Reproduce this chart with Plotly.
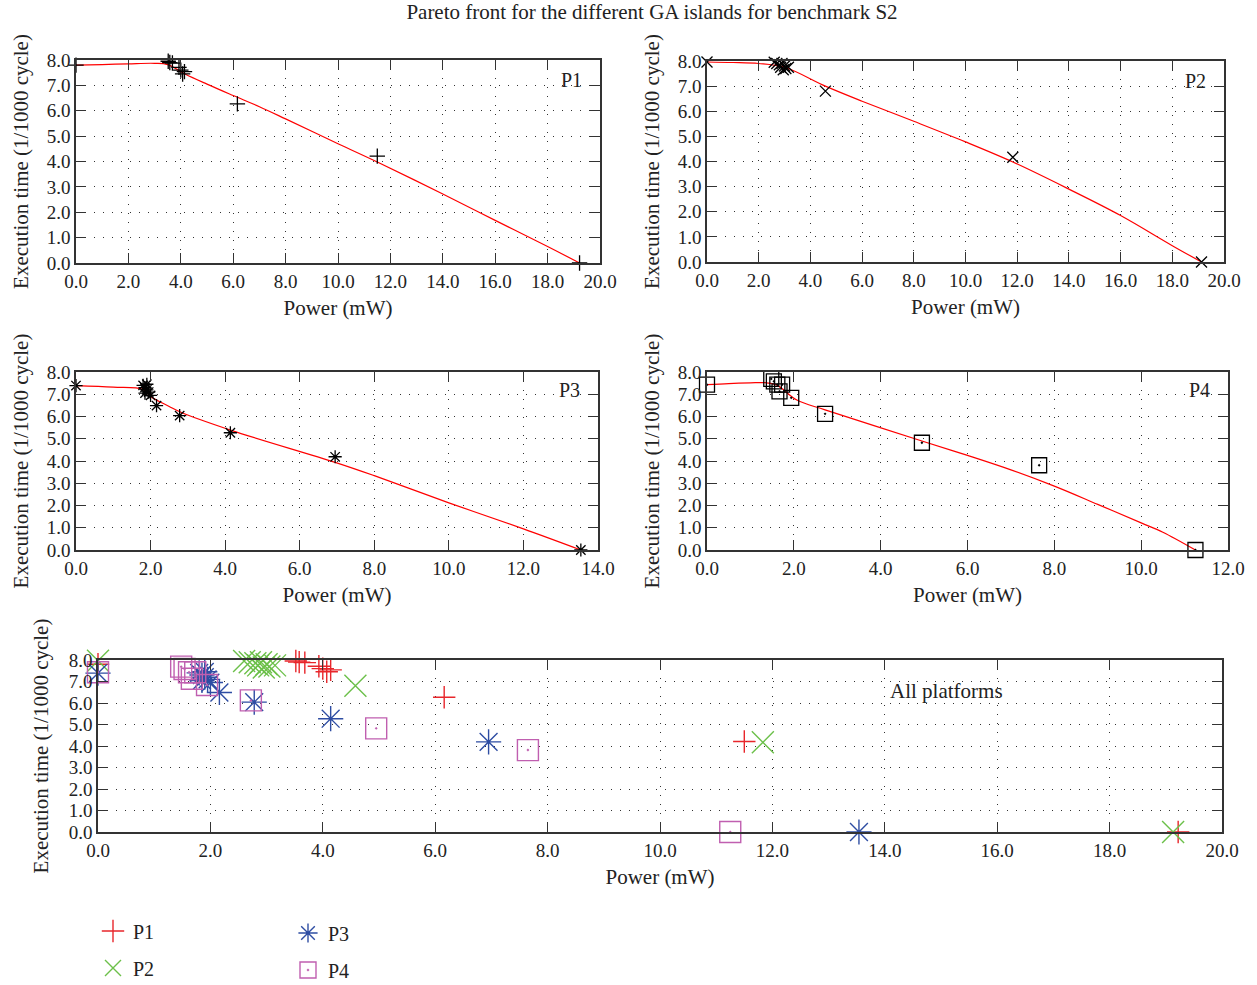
import plotly.graph_objects as go

W, H = 1257, 985

# ---------------- data ----------------
p1_x = [0.0, 3.52, 3.58, 3.68, 3.93, 4.0, 4.07, 4.14, 6.16, 11.5, 19.22]
p1_y = [7.8, 7.95, 7.9, 7.88, 7.71, 7.6, 7.45, 7.54, 6.27, 4.21, 0.0]
p1_fit_x = [0.0, 1.0, 2.0, 3.0, 3.5, 4.16, 5.0, 6.0, 7.0, 8.0, 10.0, 11.5, 14.0, 16.0, 18.0, 19.22]
p1_fit_y = [7.8, 7.82, 7.85, 7.87, 7.82, 7.45, 7.05, 6.6, 6.16, 5.68, 4.7, 3.98, 2.72, 1.68, 0.65, 0.0]

p2_x = [0.0, 2.6, 2.7, 2.8, 2.85, 2.9, 2.95, 3.0, 3.05, 3.15, 4.58, 11.83, 19.13]
p2_y = [7.96, 7.95, 7.9, 7.85, 7.75, 7.9, 7.65, 7.8, 7.7, 7.75, 6.8, 4.17, 0.0]
p2_fit_x = [0.0, 1.0, 2.0, 3.0, 4.58, 6.0, 8.0, 10.0, 11.83, 14.0, 16.0, 18.0, 19.13]
p2_fit_y = [7.96, 7.94, 7.9, 7.75, 7.0, 6.4, 5.6, 4.78, 3.98, 2.9, 1.85, 0.65, 0.0]

p3_x = [0.0, 1.8, 1.85, 1.9, 1.85, 1.95, 2.0, 1.9, 2.16, 2.78, 4.14, 6.95, 13.54]
p3_y = [7.39, 7.4, 7.3, 7.2, 7.05, 7.1, 6.95, 7.45, 6.49, 6.04, 5.27, 4.19, 0.0]
p3_fit_x = [0.0, 1.0, 1.8, 2.0, 2.5, 2.8, 4.14, 6.95, 8.0, 10.0, 12.0, 13.54]
p3_fit_y = [7.39, 7.32, 7.22, 6.9, 6.45, 6.2, 5.39, 3.94, 3.34, 2.12, 0.95, 0.0]

p4_x = [0.0, 1.48, 1.54, 1.62, 1.67, 1.73, 1.94, 2.72, 4.95, 7.65, 11.25]
p4_y = [7.43, 7.69, 7.58, 7.43, 7.13, 7.43, 6.84, 6.12, 4.82, 3.81, 0.0]
p4_fit_x = [0.0, 0.5, 1.0, 1.34, 1.6, 2.07, 2.72, 4.95, 6.0, 7.0, 8.0, 9.0, 10.0, 10.5, 11.25]
p4_fit_y = [7.43, 7.48, 7.51, 7.52, 7.42, 6.74, 6.3, 4.9, 4.25, 3.6, 2.87, 2.05, 1.22, 0.8, 0.0]

series_names = ["P1", "P2", "P3", "P4"]
series_colors = ["#e8262b", "#6cc04a", "#2e4da3", "#c05fb0"]
series_symbols = ["cross-thin-open", "x-thin-open", "asterisk-open", "square-open-dot"]
x_max = [20, 20, 14, 12]

title_text = "Pareto front for the different GA islands for benchmark S2"
y_title = "Execution time (1/1000 cycle)"
x_title = "Power (mW)"

# ---------------- figure ----------------
FONT = "Liberation Serif"
fig = go.Figure()

pts = [(p1_x, p1_y), (p2_x, p2_y), (p3_x, p3_y), (p4_x, p4_y)]
fits = [(p1_fit_x, p1_fit_y), (p2_fit_x, p2_fit_y), (p3_fit_x, p3_fit_y), (p4_fit_x, p4_fit_y)]

# pixel boxes for panels: (left, right, top, bottom)
boxes = [(76, 600, 60, 263), (707, 1224, 61, 262), (76, 598, 372, 550), (707, 1228, 372, 550)]
bottom_box = (98, 1222, 660, 832)

def dom(b):
    l, r, t, bt = b
    return [l / W, r / W], [1 - bt / H, 1 - t / H]

axis_common = dict(
    showline=True, linecolor="#333", linewidth=1.5, mirror="allticks",
    ticks="inside", ticklen=10, tickcolor="#333", tickwidth=1.3,
    showgrid=True, gridcolor="#333", griddash="1px,8px", gridwidth=1.2,
    zeroline=False, tickformat=".1f", automargin=True,
    tickfont=dict(family=FONT, size=19, color="#222"),
)
title_font = dict(family=FONT, size=21, color="#222")

sizes_top = [11, 11, 11, 15]
for i in range(4):
    n = i + 1
    xa = "x" if n == 1 else f"x{n}"
    ya = "y" if n == 1 else f"y{n}"
    fx, fy = fits[i]
    fig.add_trace(go.Scatter(x=fx, y=fy, mode="lines", line=dict(color="red", width=1.2, shape="spline"),
                             xaxis=xa, yaxis=ya, showlegend=False, hoverinfo="skip"))
    px_, py_ = pts[i]
    fig.add_trace(go.Scatter(x=px_, y=py_, mode="markers", xaxis=xa, yaxis=ya, showlegend=False,
                             cliponaxis=False,
                             marker=dict(symbol=series_symbols[i], size=sizes_top[i], color="black",
                                         line=dict(color="black", width=1.3))))
    xd, yd = dom(boxes[i])
    fig.layout[f"xaxis{'' if n == 1 else n}"] = dict(
        axis_common, domain=xd, range=[0, x_max[i]], dtick=2, anchor=ya,
        title=dict(text=x_title, font=title_font, standoff=10))
    fig.layout[f"yaxis{'' if n == 1 else n}"] = dict(
        axis_common, domain=yd, range=[0, 8], dtick=1, anchor=xa,
        title=dict(text=y_title, font=title_font, standoff=12))
    fig.add_annotation(text=series_names[i], xref=f"{xa} domain", yref=f"{ya} domain",
                       x=0.97, y=0.9, xanchor="right", yanchor="middle", showarrow=False,
                       font=dict(family=FONT, size=20, color="#222"))

# bottom panel: all platforms
sizes_bottom = [16, 22, 21, 21]
for i in range(4):
    px_, py_ = pts[i]
    fig.add_trace(go.Scatter(x=px_, y=py_, mode="markers", xaxis="x5", yaxis="y5", name=series_names[i],
                             cliponaxis=False, legend="legend" if i == 0 else f"legend{i + 1}",
                             marker=dict(symbol=series_symbols[i], size=sizes_bottom[i], color=series_colors[i],
                                         line=dict(color=series_colors[i], width=1.4))))
xd, yd = dom(bottom_box)
fig.layout["xaxis5"] = dict(axis_common, domain=xd, range=[0, 20], dtick=2, anchor="y5",
                            title=dict(text=x_title, font=title_font, standoff=10))
fig.layout["yaxis5"] = dict(axis_common, domain=yd, range=[0, 8], dtick=1, anchor="x5",
                            title=dict(text=y_title, font=title_font, standoff=14))
fig.add_annotation(text="All platforms", xref="x5 domain", yref="y5 domain", x=0.755, y=0.82,
                   xanchor="center", yanchor="middle", showarrow=False,
                   font=dict(family=FONT, size=21, color="#222"))

legend_style = dict(font=dict(family=FONT, size=20, color="#222"), bgcolor="rgba(0,0,0,0)",
                    orientation="v", xanchor="left", yanchor="middle", itemsizing="trace")
fig.update_layout(
    width=W, height=H,
    margin=dict(l=0, r=0, t=0, b=0, autoexpand=False),
    paper_bgcolor="white", plot_bgcolor="white",
    font=dict(family=FONT, size=19, color="#222"),
    title=dict(text=title_text, x=652 / W, xanchor="center", y=1 - 12 / H, yanchor="middle",
               font=dict(family=FONT, size=21, color="#222")),
    legend=dict(legend_style, x=93 / W, y=1 - 931 / H),
    legend2=dict(legend_style, x=93 / W, y=1 - 968 / H),
    legend3=dict(legend_style, x=288 / W, y=1 - 933 / H),
    legend4=dict(legend_style, x=288 / W, y=1 - 970 / H),
)

fig.write_html("out.html", config={"displayModeBar": False},
               post_script="document.body.style.margin='0';document.body.style.padding='0';")
